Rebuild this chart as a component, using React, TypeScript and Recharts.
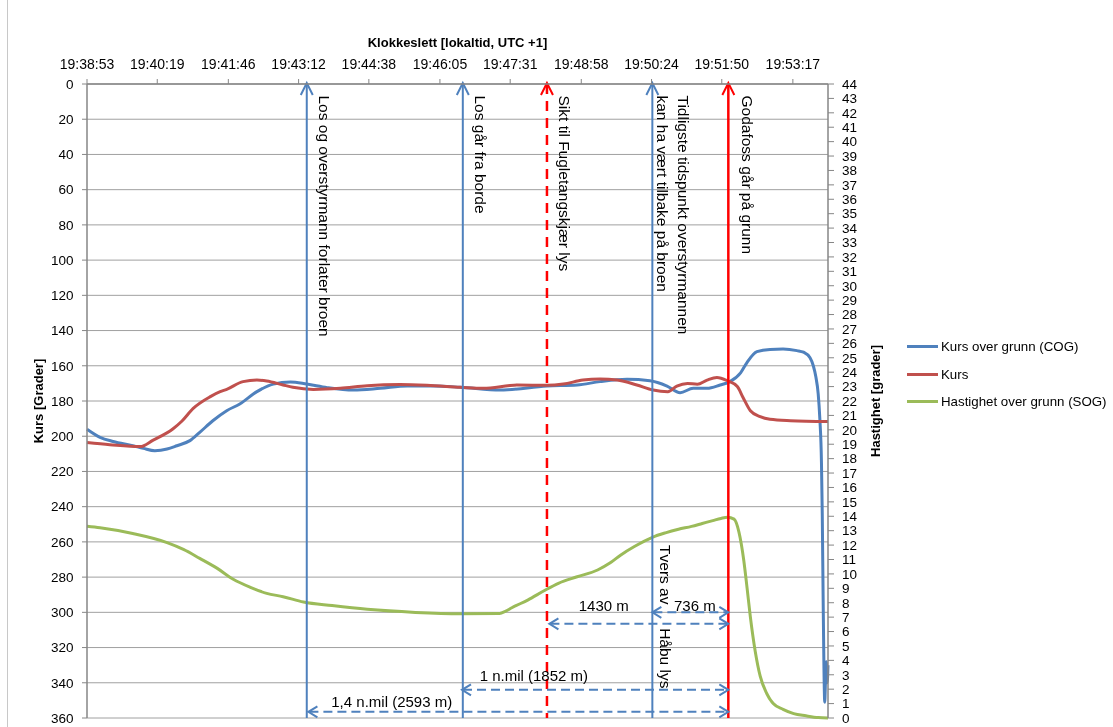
import React from 'react';
import {
  LineChart,
  Line,
  XAxis,
  YAxis,
  CartesianGrid,
  ReferenceLine,
  ReferenceDot,
  Legend,
} from 'recharts';

const FONT = '"Liberation Sans", Arial, sans-serif';

// ---------- axes ----------
const timeStart = '19:38:53';
const timeTickLabels = [
  '19:38:53', '19:40:19', '19:41:46', '19:43:12', '19:44:38', '19:46:05',
  '19:47:31', '19:48:58', '19:50:24', '19:51:50', '19:53:17',
];
const timeEndSeconds = 907;
const courseTicks = [0, 20, 40, 60, 80, 100, 120, 140, 160, 180, 200, 220, 240, 260, 280, 300, 320, 340, 360];
const speedTicks = [
  0, 1, 2, 3, 4, 5, 6, 7, 8, 9, 10, 11, 12, 13, 14, 15, 16, 17, 18, 19, 20, 21,
  22, 23, 24, 25, 26, 27, 28, 29, 30, 31, 32, 33, 34, 35, 36, 37, 38, 39, 40, 41, 42, 43, 44,
];

// ---------- series (seconds after 19:38:53) ----------
const seriesNames = ['Kurs over grunn (COG)', 'Kurs', 'Hastighet over grunn (SOG)'];

const cogSeconds = [
  0, 16, 32, 56, 69, 83, 98, 110, 126, 138, 154, 171, 187, 208, 228, 249, 269, 294, 326, 359,
  392, 424, 457, 506, 563, 600, 628, 661, 689, 710, 726, 742, 759, 775, 787, 800, 808, 820, 836,
  852, 869, 877, 885, 889, 892, 895, 897, 899, 900, 901, 902, 903, 904, 905, 906, 907,
];
const cogDegrees = [
  196, 200.6, 203, 205.4, 206.9, 208.2, 207.3, 205.4, 202.5, 197.8, 191.2, 185.5, 181.7, 174.7,
  170.4, 169.2, 170.4, 172.4, 173.8, 172.8, 171.5, 171.5, 172.2, 173.8, 171.5, 170.9, 169, 167.7,
  168.5, 171.5, 175.3, 172.8, 172.8, 170.9, 169, 164, 158, 152, 150.7, 150.5, 151.4, 152.3, 155.5,
  160, 166, 176, 190, 215, 245, 290, 330, 351, 338, 328, 340, 330,
];

const kursSeconds = [
  0, 28, 65, 81, 105, 116, 130, 151, 163, 171, 191, 208, 220, 240, 252, 277, 310, 343, 383, 416,
  457, 485, 527, 563, 583, 607, 628, 649, 673, 693, 711, 722, 735, 747, 759, 771, 784, 796, 803,
  812, 824, 836, 861, 907,
];
const kursDegrees = [
  203.6, 204.8, 205.9, 202.2, 195.9, 191.5, 184.2, 177.5, 174.7, 173.4, 169, 168.1, 168.6, 170.9,
  172.2, 173.4, 172.8, 171.3, 170.7, 171.1, 172.2, 172.8, 170.9, 171.1, 170.4, 168.1, 167.5, 168.1,
  170.9, 173.8, 174.7, 171.5, 170, 170.5, 168.1, 166.6, 168.5, 171.8, 178, 185.5, 188.9, 190.4,
  191.2, 191.7,
];

const sogSeconds = [
  0, 16, 56, 98, 118, 138, 159, 179, 200, 220, 240, 265, 300, 343, 402, 457, 505, 512, 520, 540,
  560, 577, 600, 625, 640, 653, 670, 692, 708, 724, 740, 753, 766, 776, 784, 792, 798, 804, 808,
  812, 818, 824, 832, 840, 852, 865, 880, 895, 907,
];
const sogKnots = [
  13.3, 13.2, 12.8, 12.17, 11.7, 11.08, 10.4, 9.63, 9.07, 8.65, 8.42, 8.05, 7.8, 7.54, 7.33, 7.24,
  7.26, 7.4, 7.65, 8.2, 8.85, 9.35, 9.8, 10.27, 10.75, 11.3, 11.9, 12.54, 12.85, 13.1, 13.3, 13.5,
  13.7, 13.85, 13.93, 13.8, 12.9, 10.9, 9.0, 7.0, 4.6, 2.9, 1.7, 1.0, 0.6, 0.3, 0.15, 0.03, 0,
];

// ---------- events ----------
const eventSeconds = [269, 460, 563, 692, 785];
const eventTexts = [
  ['Los og overstyrmann forlater broen'],
  ['Los går fra borde'],
  ['Sikt til Fugletangskjær lys'],
  ['Tidligste tidspunkt overstyrmannen', 'kan ha vært tilbake på broen'],
  ['Godafoss går på grunn'],
];
const crossingTexts = ['Tvers av', 'Håbu lys'];
const crossingSeconds = [692, 692];
const crossingDegrees = [261.8, 309];

// ---------- distances ----------
const distanceTexts = ['736 m', '1430 m', '1 n.mil (1852 m)', '1,4 n.mil (2593 m)'];
const distanceFrom = [692, 566, 459, 271];
const distanceTo = [785, 785, 785, 785];
const distanceLevel = [300, 306.5, 344, 356.5];
const distanceTextSeconds = [744, 632.5, 547, 373];
const distanceTextDegrees = [296.4, 296.4, 335.6, 350.7];

// ---------- built tables ----------
const toSec = (s: string) => {
  const [h, m, x] = s.split(':').map(Number);
  return h * 3600 + m * 60 + x;
};
const timeTicks = timeTickLabels.map((l) => toSec(l) - toSec(timeStart));
const cogData = cogSeconds.map((t, i) => ({ t, v: cogDegrees[i] }));
const kursData = kursSeconds.map((t, i) => ({ t, v: kursDegrees[i] }));
const sogData = sogSeconds.map((t, i) => ({ t, v: sogKnots[i] }));

// ---------- styles ----------
const BLUE = '#4F81BD';
const RED = '#C0504D';
const GREEN = '#9BBB59';
const EVENT_RED = '#FF0000';
const AXIS = '#868686';
const GRID = '#A0A0A0';

const eventStyles = [
  { color: BLUE, dash: undefined as string | undefined, width: 2, textDx: [12] },
  { color: BLUE, dash: undefined, width: 2, textDx: [12] },
  { color: EVENT_RED, dash: '10 7', width: 2.5, textDx: [12.5] },
  { color: BLUE, dash: undefined, width: 2, textDx: [25.5, 5] },
  { color: EVENT_RED, dash: undefined, width: 2.5, textDx: [13.5] },
];

const ANN_SIZE = 15.5;

const makeEventShape = (i: number) => (props: any) => {
  const { x1, y1, y2 } = props;
  const top = Math.min(y1, y2);
  const bottom = Math.max(y1, y2);
  const s = eventStyles[i];
  return (
    <g>
      <line x1={x1} y1={top} x2={x1} y2={bottom} stroke={s.color} strokeWidth={s.width} strokeDasharray={s.dash} />
      <polyline
        points={`${x1 - 6},${top + 11} ${x1},${top - 1} ${x1 + 6},${top + 11}`}
        fill="none"
        stroke={s.color}
        strokeWidth={2}
      />
      {eventTexts[i].map((txt, k) => {
        const tx = x1 + s.textDx[k];
        const ty = top + 11.5;
        return (
          <text
            key={k}
            x={tx}
            y={ty}
            transform={`rotate(90 ${tx} ${ty})`}
            fontSize={ANN_SIZE}
            fontFamily={FONT}
            fill="#000"
          >
            {txt}
          </text>
        );
      })}
    </g>
  );
};

const makeCrossingShape = (i: number) => (props: any) => {
  const tx = props.cx + 8;
  const ty = props.cy;
  return (
    <text x={tx} y={ty} transform={`rotate(90 ${tx} ${ty})`} fontSize={ANN_SIZE} fontFamily={FONT} fill="#000">
      {crossingTexts[i]}
    </text>
  );
};

const DistanceArrow = (props: any) => {
  const { x1, x2, y1 } = props;
  const a = Math.min(x1, x2);
  const b = Math.max(x1, x2);
  const y = y1;
  return (
    <g>
      <line x1={a + 1} y1={y} x2={b - 1} y2={y} stroke={BLUE} strokeWidth={2} strokeDasharray="9 5" />
      <polyline points={`${a + 9},${y - 5.5} ${a},${y} ${a + 9},${y + 5.5}`} fill="none" stroke={BLUE} strokeWidth={2} />
      <polyline points={`${b - 9},${y - 5.5} ${b},${y} ${b - 9},${y + 5.5}`} fill="none" stroke={BLUE} strokeWidth={2} />
    </g>
  );
};

const makeDistanceLabel = (i: number) => (props: any) => (
  <text
    x={props.cx}
    y={props.cy}
    textAnchor="middle"
    dominantBaseline="central"
    fontSize={15}
    fontFamily={FONT}
    fill="#000"
  >
    {distanceTexts[i]}
  </text>
);

const renderLegend = (props: any) => {
  const payload = [...(props.payload || [])].sort(
    (a: any, b: any) => seriesNames.indexOf(a.value) - seriesNames.indexOf(b.value),
  );
  return (
    <div style={{ fontFamily: FONT, fontSize: 13.3, color: '#000', whiteSpace: 'nowrap' }}>
      {payload.map((p: any, i: number) => (
        <div key={i} style={{ display: 'flex', alignItems: 'center', height: 27.5 }}>
          <div style={{ width: 31, height: 3, background: p.color, marginRight: 3, flex: 'none' }} />
          <span>{p.value}</span>
        </div>
      ))}
    </div>
  );
};

const XTitle = (props: any) => {
  const vb = props.viewBox || { x: 79, y: 36, width: 741, height: 40 };
  return (
    <text
      x={vb.x + vb.width / 2}
      y={vb.y - 2}
      textAnchor="middle"
      dominantBaseline="central"
      fontWeight="bold"
      fontSize={13}
      fontFamily={FONT}
      fill="#000"
    >
      Klokkeslett [lokaltid, UTC +1]
    </text>
  );
};

const YTitle = (text: string, dx: number) => (props: any) => {
  const vb = props.viewBox || { x: 0, y: 76, width: 79, height: 634 };
  const x = vb.x + dx;
  const y = vb.y + vb.height / 2;
  return (
    <text
      x={x}
      y={y}
      transform={`rotate(-90 ${x} ${y})`}
      textAnchor="middle"
      dominantBaseline="central"
      fontWeight="bold"
      fontSize={13}
      fontFamily={FONT}
      fill="#000"
    >
      {text}
    </text>
  );
};

const topTickStyle = { fontSize: 14, fill: '#000', fontFamily: FONT };
const sideTickStyle = { fontSize: 13.5, fill: '#000', fontFamily: FONT };

export default function App() {
  return (
    <>
      <div style={{ position: 'fixed', left: 7, top: 0, width: 1, height: 727, background: '#C8C8C8' }} />
      <div style={{ position: 'fixed', left: 8, top: 8, width: 1105, height: 719 }}>
        <LineChart
          width={1105}
          height={719}
          margin={{ top: 36, right: 225, bottom: 9, left: 0 }}
          style={{ fontFamily: FONT }}
        >
          <CartesianGrid yAxisId="left" vertical={false} stroke={GRID} strokeWidth={1} />
          <XAxis
            dataKey="t"
            type="number"
            orientation="top"
            domain={[0, timeEndSeconds]}
            ticks={timeTicks}
            interval={0}
            tickFormatter={(v: number) => timeTickLabels[timeTicks.indexOf(v)] ?? ''}
            height={40}
            tick={topTickStyle}
            tickSize={5}
            tickMargin={10}
            axisLine={{ stroke: AXIS, strokeWidth: 1.5 }}
            tickLine={{ stroke: AXIS }}
            label={<XTitle />}
          />
          <YAxis
            yAxisId="left"
            orientation="left"
            reversed
            domain={[0, 360]}
            ticks={courseTicks}
            interval={0}
            width={79}
            tick={sideTickStyle}
            tickSize={5}
            tickMargin={8.5}
            axisLine={{ stroke: AXIS, strokeWidth: 1.5 }}
            tickLine={{ stroke: AXIS }}
            label={YTitle('Kurs [Grader]', 30)}
          />
          <YAxis
            yAxisId="right"
            orientation="right"
            domain={[0, 44]}
            ticks={speedTicks}
            interval={0}
            width={60}
            tick={sideTickStyle}
            tickSize={6}
            tickMargin={8}
            axisLine={{ stroke: AXIS, strokeWidth: 1.5 }}
            tickLine={{ stroke: AXIS }}
            label={YTitle('Hastighet [grader]', 47)}
          />
          <Legend
            layout="vertical"
            align="center"
            verticalAlign="middle"
            wrapperStyle={{ left: 899, top: 325, width: 205 }}
            content={renderLegend}
          />
          <Line
            yAxisId="left"
            data={cogData}
            dataKey="v"
            name={seriesNames[0]}
            stroke={BLUE}
            strokeWidth={3}
            dot={false}
            type="monotone"
            isAnimationActive={false}
          />
          <Line
            yAxisId="left"
            data={kursData}
            dataKey="v"
            name={seriesNames[1]}
            stroke={RED}
            strokeWidth={3}
            dot={false}
            type="monotone"
            isAnimationActive={false}
          />
          <Line
            yAxisId="right"
            data={sogData}
            dataKey="v"
            name={seriesNames[2]}
            stroke={GREEN}
            strokeWidth={3}
            dot={false}
            type="monotone"
            isAnimationActive={false}
          />
          {eventSeconds.map((t, i) => (
            <ReferenceLine key={`ev${i}`} x={t} yAxisId="left" shape={makeEventShape(i)} />
          ))}
          {crossingTexts.map((_, i) => (
            <ReferenceDot
              key={`cr${i}`}
              x={crossingSeconds[i]}
              y={crossingDegrees[i]}
              yAxisId="left"
              r={0}
              shape={makeCrossingShape(i)}
            />
          ))}
          {distanceTexts.map((_, i) => (
            <ReferenceLine
              key={`d${i}`}
              yAxisId="left"
              segment={[
                { x: distanceFrom[i], y: distanceLevel[i] },
                { x: distanceTo[i], y: distanceLevel[i] },
              ]}
              shape={DistanceArrow}
            />
          ))}
          {distanceTexts.map((_, i) => (
            <ReferenceDot
              key={`dl${i}`}
              x={distanceTextSeconds[i]}
              y={distanceTextDegrees[i]}
              yAxisId="left"
              r={0}
              shape={makeDistanceLabel(i)}
            />
          ))}
        </LineChart>
      </div>
    </>
  );
}
